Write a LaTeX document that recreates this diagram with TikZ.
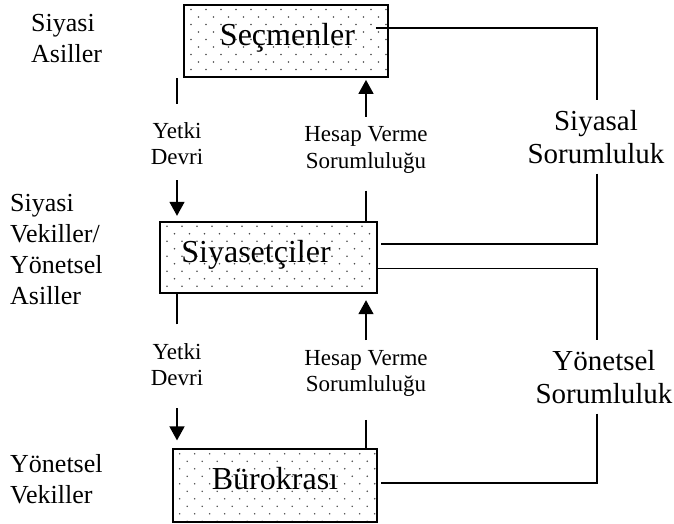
\documentclass[tikz,border=0pt]{standalone}
\usepackage{fontspec}
\setmainfont{Liberation Serif}
\usetikzlibrary{arrows.meta,calc}
\definecolor{dotcol}{gray}{0.3}
\tikzset{
  dotbox/.style={draw=black, line width=1.8pt, inner sep=0pt, rectangle,
    path picture={
      \foreach \r in {0,...,9}{
        \foreach \c in {0,...,15}{
          \fill[dotcol] ($(path picture bounding box.north west)+({\c*15+7+mod(\r,2)*7.5},{\r*7.5+4.5})$) circle[radius=0.85pt];
        }
      }
    }},
  boxtext/.style={font=\fontsize{32}{38}\selectfont, anchor=base, inner sep=0pt},
  smalllabel/.style={font=\fontsize{23}{26.5}\selectfont, align=center, inner sep=0pt},
  sidelabel/.style={font=\fontsize{26}{31}\selectfont, align=left, inner sep=0pt, anchor=west},
  resplabel/.style={font=\fontsize{29}{33}\selectfont, align=center, inner sep=0pt},
  conn/.style={line width=1.6pt, draw=black},
  arr/.style={conn, -{Triangle[width=15pt,length=14pt]}}
}
\begin{document}
\begin{tikzpicture}[x=1pt,y=-1pt]
\useasboundingbox (0,0) rectangle (674,524);

% boxes
\node[dotbox, minimum width=204pt, minimum height=72pt] (sec) at (286,41) {};
\node[dotbox, minimum width=216.7pt, minimum height=71.6pt] (sic) at (268.3,257.5) {};
\node[dotbox, minimum width=204pt, minimum height=72.4pt] (bur) at (274.7,485.5) {};

\node[boxtext] (secT) at (287.5,45.5) {Seçmenler};
\node[boxtext] (sicT) at (256,262.7) {Siyasetçiler};
\node[boxtext] (burT) at (275,489) {Bürokrası};

% side labels
\node[sidelabel] (sa) at (31,38.6) {Siyasi\\Asiller};
\node[sidelabel] (sv) at (10,249.5) {Siyasi\\Vekiller/\\Yönetsel\\Asiller};
\node[sidelabel] (yv) at (10,479) {Yönetsel\\Vekiller};

% middle labels
\node[smalllabel] (yd1) at (177,143.5) {Yetki\\Devri};
\node[smalllabel] (hv1) at (366,150.2) {Hesap Verme\\Sorumluluğu};
\node[smalllabel] (yd2) at (177,364.6) {Yetki\\Devri};
\node[smalllabel] (hv2) at (366,373.5) {Hesap Verme\\Sorumluluğu};

% right labels
\node[resplabel] (ss) at (596,136.8) {Siyasal\\Sorumluluk};
\node[resplabel] (ys) at (604,376.8) {Yönetsel\\Sorumluluk};

% Yetki Devri arrows
\draw[conn, shorten <=18pt] (yd1.north) -- (yd1.north |- sec.south);
\draw[arr, shorten <=15pt, shorten >=5pt] (yd1.south) -- (yd1.south |- sic.north);
\draw[conn, shorten <=18.6pt] (yd2.north) -- (yd2.north |- sic.south);
\draw[arr, shorten <=22pt, shorten >=8pt] (yd2.south) -- (yd2.south |- bur.north);

% Hesap Verme arrows
\draw[arr, shorten <=10pt, shorten >=2pt] (hv1.north) -- (hv1.north |- sec.south);
\draw[conn, shorten <=17pt] (hv1.south) -- (hv1.south |- sic.north);
\draw[arr, shorten <=10pt, shorten >=6pt] (hv2.north) -- (hv2.north |- sic.south);
\draw[conn, shorten <=23pt] (hv2.south) -- (hv2.south |- bur.north);

% right connectors
\draw[conn, shorten >=10pt] ($(sec.north east)+(-13,24)$) -| ($(ss.north)+(1,0)$);
\draw[conn, shorten <=10pt] ($(ss.south)+(1,0)$) |- ($(sic.north east)+(3,23.3)$);
\draw[conn, shorten >=10pt] ($(sic.north east)+(0,47.5)$) -| ($(ys.north)+(-7,0)$);
\draw[conn, shorten <=10pt] ($(ys.south)+(-7,0)$) |- ($(bur.north east)+(3,34.7)$);
\end{tikzpicture}
\end{document}
